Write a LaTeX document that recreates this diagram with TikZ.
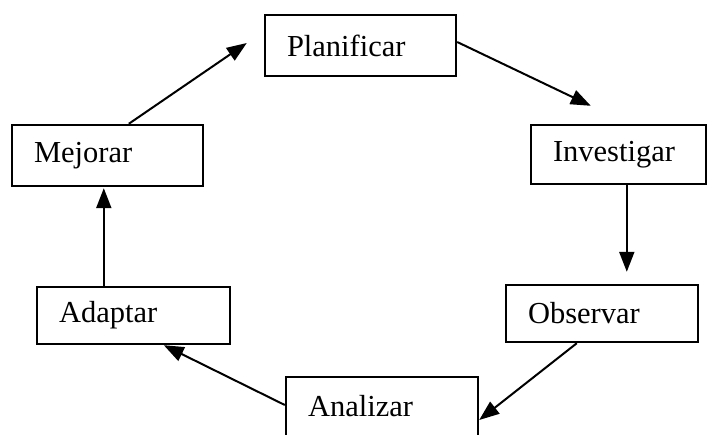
\documentclass[tikz,border=0pt]{standalone}
\usepackage{fontspec}
\setmainfont{Liberation Serif}
\usetikzlibrary{arrows.meta,calc}
\begin{document}
\begin{tikzpicture}[x=1pt,y=-1pt,
  stagebox/.style={draw=black,line width=2.4pt,fill=white,inner xsep=22pt,inner ysep=0pt,
    align=left,font=\fontsize{30.5}{36}\selectfont},
  conn/.style={line width=2pt,-{Triangle[length=20pt,width=15pt]}}]
\useasboundingbox (0,0) rectangle (712,434);
\clip (0,0) rectangle (712,434);
\node[stagebox,text width=147pt,minimum height=61pt] (plan) at (360.5,45.5) {Planificar};
\node[stagebox,text width=131pt,minimum height=59pt] (inv) at (618.5,154.5) {Investigar};
\node[stagebox,text width=148pt,minimum height=57pt] (obs) at (602,313.5) {Observar};
\node[stagebox,text width=148pt,minimum height=59pt] (ana) at (382,406.5) {Analizar};
\node[stagebox,text width=149pt,minimum height=57pt] (ada) at (133.5,315.5) {Adaptar};
\node[stagebox,text width=147pt,minimum height=61pt] (mej) at (107.5,155.5) {Mejorar};
\draw[conn] ($(mej.north west)+(118,0)$) -- ($(plan.west)+(-17,-2.5)$);
\draw[conn] ($(plan.east)+(0,-3.5)$) -- ($(inv.north west)+(61,-18)$);
\draw[conn] ($(inv.south west)+(97,0)$) -- ($(obs.north west)+(122,-12)$);
\draw[conn] ($(obs.south west)+(72,0)$) -- ($(ana.east)+(0,13.5)$);
\draw[conn] ($(ana.west)+(0,-1.5)$) -- ($(ada.south west)+(128,0)$);
\draw[conn] ($(ada.north west)+(68,0)$) -- ($(mej.south west)+(93,1)$);
\end{tikzpicture}
\end{document}
